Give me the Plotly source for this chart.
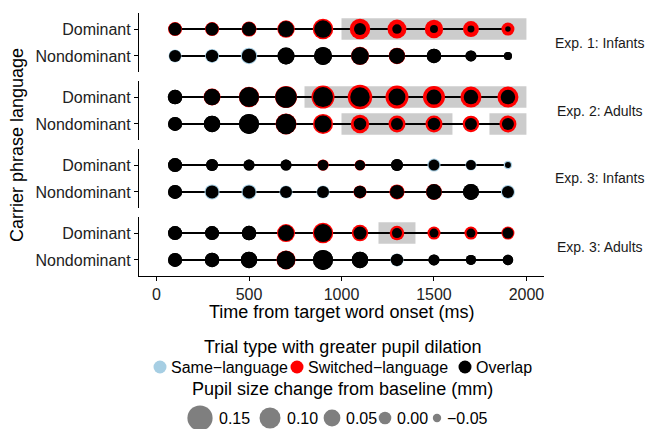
import plotly.graph_objects as go

# ---------------- data ----------------
facets = ["Exp. 1: Infants", "Exp. 2: Adults", "Exp. 3: Infants", "Exp. 3: Adults"]
languages = ["Dominant", "Nondominant"]
time_ms = [100, 300, 500, 700, 900, 1100, 1300, 1500, 1700, 1900]

e1_dom_same = [0.005, 0.005, 0.017, 0.040, 0.058, -0.007, -0.037, -0.055, -0.067, -0.085]
e1_dom_switched = [0.017, 0.017, 0.029, 0.058, 0.094, 0.094, 0.076, 0.070, 0.040, 0.005]
e1_non_same = [0.005, 0.017, 0.046, 0.052, 0.064, 0.060, 0.040, 0.023, -0.019, -0.055]
e1_non_switched = [-0.007, -0.001, 0.023, 0.052, 0.064, 0.066, 0.046, 0.023, -0.019, -0.055]

e2_dom_same = [0.023, 0.046, 0.088, 0.105, 0.088, 0.082, 0.052, 0.029, 0.023, 0.023]
e2_dom_switched = [0.023, 0.052, 0.094, 0.112, 0.124, 0.142, 0.124, 0.112, 0.100, 0.100]
e2_non_same = [0.017, 0.046, 0.088, 0.094, 0.052, -0.001, -0.007, -0.001, -0.007, -0.007]
e2_non_switched = [0.017, 0.046, 0.088, 0.100, 0.088, 0.070, 0.052, 0.052, 0.046, 0.052]

e3i_dom_same = [0.017, -0.007, -0.019, -0.019, -0.022, -0.028, -0.007, 0.005, -0.019, -0.049]
e3i_dom_switched = [0.017, -0.007, -0.019, -0.019, -0.015, -0.022, -0.007, -0.019, -0.031, -0.079]
e3i_non_same = [0.017, 0.029, 0.029, 0.005, 0.005, -0.001, 0.017, 0.036, 0.040, 0.017]
e3i_non_switched = [0.017, 0.005, 0.005, -0.007, -0.007, 0.005, 0.029, 0.040, 0.040, -0.007]

e3a_dom_same = [0.017, 0.017, 0.023, 0.040, 0.064, 0.005, -0.031, -0.043, -0.043, -0.019]
e3a_dom_switched = [0.017, 0.017, 0.023, 0.064, 0.094, 0.046, 0.023, 0.005, 0.005, 0.005]
e3a_non_same = [0.017, 0.023, 0.046, 0.070, 0.088, 0.046, 0.005, -0.019, -0.031, -0.025]
e3a_non_switched = [0.017, 0.023, 0.046, 0.076, 0.088, 0.046, -0.001, -0.019, -0.031, -0.025]

# significant windows: (facet index, language, start ms, end ms)
sig_windows = [
    (0, "Dominant", 1000, 2000),
    (1, "Dominant", 800, 2000),
    (1, "Nondominant", 1000, 1600),
    (1, "Nondominant", 1800, 2000),
    (3, "Dominant", 1200, 1400),
]

trial_types = ["Same\u2212language", "Switched\u2212language", "Overlap"]
size_breaks = [0.15, 0.10, 0.05, 0.00, -0.05]
size_labels = ["0.15", "0.10", "0.05", "0.00", "\u22120.05"]

series = {
    (0, "Dominant"): (e1_dom_same, e1_dom_switched),
    (0, "Nondominant"): (e1_non_same, e1_non_switched),
    (1, "Dominant"): (e2_dom_same, e2_dom_switched),
    (1, "Nondominant"): (e2_non_same, e2_non_switched),
    (2, "Dominant"): (e3i_dom_same, e3i_dom_switched),
    (2, "Nondominant"): (e3i_non_same, e3i_non_switched),
    (3, "Dominant"): (e3a_dom_same, e3a_dom_switched),
    (3, "Nondominant"): (e3a_non_same, e3a_non_switched),
}

# ---------------- style ----------------
W, H = 656, 429
BLUE = "#a6cee3"
RED = "#ff0000"
BLACK = "#000000"
GRAY_RECT = "#cccccc"
FONT = "Liberation Sans, Arial, sans-serif"


def diam(v):
    return 12.6 + 84.0 * v


panel_px = [(13, 72), (81, 140), (149, 208), (217, 276)]
x_left_px, x_right_px = 139, 544

fig = go.Figure()
layout = {}
shapes = []
annotations = []

for i, (top, bot) in enumerate(panel_px):
    k = "" if i == 0 else str(i + 1)
    xa, ya = "x" + k, "y" + k
    last = i == len(panel_px) - 1
    layout["xaxis" + k] = dict(
        domain=[x_left_px / W, x_right_px / W], range=[-95, 2095], anchor=ya,
        showgrid=False, zeroline=False,
        showline=last, linecolor="black", linewidth=1.2,
        ticks="outside" if last else "", ticklen=4, tickcolor="black", tickwidth=1.2,
        showticklabels=last, tickvals=[0, 500, 1000, 1500, 2000],
        tickfont=dict(size=16, color="#222", family=FONT),
        matches=None if i == 0 else "x",
    )
    layout["yaxis" + k] = dict(
        domain=[1 - bot / H, 1 - top / H], anchor=xa,
        type="category", categoryorder="array", categoryarray=languages[::-1],
        range=[-0.6, 1.6], showgrid=False, zeroline=False,
        showline=True, linecolor="black", linewidth=1.2,
        ticks="outside", ticklen=4, tickcolor="black", tickwidth=1.2,
        tickfont=dict(size=16, color="#222", family=FONT),
    )
    annotations.append(dict(
        x=600 / W, y=1 - (top + bot) / 2 / H, xref="paper", yref="paper",
        text=facets[i], showarrow=False, xanchor="center", yanchor="middle",
        font=dict(size=14, color="#1a1a1a", family=FONT),
    ))

# highlight rectangles
for fi, lang, x0, x1 in sig_windows:
    k = "" if fi == 0 else str(fi + 1)
    yi = languages[::-1].index(lang)
    shapes.append(dict(type="rect", xref="x" + k, yref="y" + k,
                       x0=x0, x1=x1, y0=yi - 0.4, y1=yi + 0.4,
                       fillcolor=GRAY_RECT, line=dict(width=0), layer="below"))

# lines and points
for (fi, lang), (same, sw) in series.items():
    k = "" if fi == 0 else str(fi + 1)
    xa, ya = "x" + k, "y" + k
    ys = [lang] * len(time_ms)
    fig.add_trace(go.Scatter(x=time_ms, y=ys, xaxis=xa, yaxis=ya, mode="lines",
                             line=dict(color="black", width=2), showlegend=False,
                             hoverinfo="skip"))
    big = [max(a, b) for a, b in zip(same, sw)]
    small = [min(a, b) for a, b in zip(same, sw)]
    cols = [BLUE if a > b else (RED if b > a else BLACK) for a, b in zip(same, sw)]
    fig.add_trace(go.Scatter(x=time_ms, y=ys, xaxis=xa, yaxis=ya, mode="markers",
                             marker=dict(size=[diam(v) for v in big], color=cols,
                                         opacity=1, line=dict(width=0)),
                             showlegend=False, hoverinfo="skip"))
    fig.add_trace(go.Scatter(x=time_ms, y=ys, xaxis=xa, yaxis=ya, mode="markers",
                             marker=dict(size=[diam(v) for v in small], color=BLACK,
                                         opacity=1, line=dict(width=0)),
                             showlegend=False, hoverinfo="skip"))

# axis titles
annotations.append(dict(x=(x_left_px + x_right_px) / 2 / W, y=1 - 312 / H,
                        xref="paper", yref="paper", text="Time from target word onset (ms)",
                        showarrow=False, xanchor="center", yanchor="middle",
                        font=dict(size=18, color="black", family=FONT)))
annotations.append(dict(x=17 / W, y=1 - 145 / H, xref="paper", yref="paper",
                        text="Carrier phrase language", textangle=-90,
                        showarrow=False, xanchor="center", yanchor="middle",
                        font=dict(size=18, color="black", family=FONT)))

# ---------------- manual legends on a helper axis ----------------
layout["xaxis9"] = dict(domain=[0, 1], range=[0, W], visible=False, anchor="y9",
                        fixedrange=True)
layout["yaxis9"] = dict(domain=[0, 1], range=[H, 0], visible=False, anchor="x9",
                        fixedrange=True)

annotations.append(dict(x=342, y=347, xref="x9", yref="y9",
                        text="Trial type with greater pupil dilation", showarrow=False,
                        xanchor="center", yanchor="middle",
                        font=dict(size=18, color="black", family=FONT)))
leg1_x = [160, 297, 465]
leg1_cols = [BLUE, RED, BLACK]
fig.add_trace(go.Scatter(x=leg1_x, y=[367] * 3, xaxis="x9", yaxis="y9", mode="markers",
                         marker=dict(size=13, color=leg1_cols, opacity=1, line=dict(width=0)),
                         showlegend=False, hoverinfo="skip"))
for xx, lab in zip(leg1_x, trial_types):
    annotations.append(dict(x=xx + 9, y=367, xref="x9", yref="y9", text=lab,
                            showarrow=False, xanchor="left", yanchor="middle",
                            font=dict(size=16, color="black", family=FONT)))

annotations.append(dict(x=342, y=389, xref="x9", yref="y9",
                        text="Pupil size change from baseline (mm)", showarrow=False,
                        xanchor="center", yanchor="middle",
                        font=dict(size=18, color="black", family=FONT)))
leg2_x = [200, 270, 332, 385, 437]
fig.add_trace(go.Scatter(x=leg2_x, y=[418] * 5, xaxis="x9", yaxis="y9", mode="markers",
                         marker=dict(size=[diam(v) for v in size_breaks], color="#7f7f7f",
                                     opacity=1, line=dict(width=0)),
                         showlegend=False, hoverinfo="skip"))
for xx, v, lab in zip(leg2_x, size_breaks, size_labels):
    annotations.append(dict(x=xx + diam(v) / 2 + 4, y=418, xref="x9", yref="y9", text=lab,
                            showarrow=False, xanchor="left", yanchor="middle",
                            font=dict(size=16, color="black", family=FONT)))

fig.update_layout(
    width=W, height=H, margin=dict(l=0, r=0, t=0, b=0),
    paper_bgcolor="white", plot_bgcolor="rgba(0,0,0,0)",
    showlegend=False, shapes=shapes, annotations=annotations,
    font=dict(family=FONT),
    **layout,
)

fig.write_html("out.html", config={"displayModeBar": False},
               post_script="document.body.style.margin='0px';document.body.style.overflow='hidden';")
